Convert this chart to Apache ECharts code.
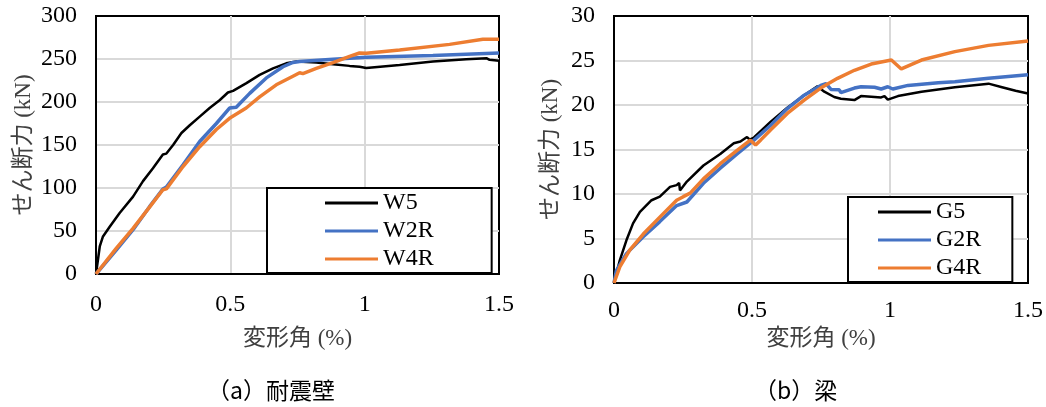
<!DOCTYPE html>
<html>
<head>
<meta charset="utf-8">
<script src="https://cdn.jsdelivr.net/npm/echarts@6/dist/echarts.min.js"></script>
<style>
html,body{margin:0;padding:0;background:#fff;}
#chart{width:1046px;height:407px;}
</style>
</head>
<body>
<div id="chart"></div>
<script>
// ---- data (drift angle %, shear force kN) ----
const W5 = [[0,0],[0.014,32],[0.026,43.7],[0.051,55],[0.088,71],[0.138,90],[0.175,108],[0.212,123],[0.249,139],[0.262,140],[0.287,150],[0.318,164],[0.349,173],[0.386,183],[0.423,193],[0.46,202],[0.491,211],[0.51,213],[0.56,222],[0.609,231.5],[0.659,239],[0.708,245],[0.746,247],[0.82,246],[0.882,244],[0.944,242],[0.981,241],[1.006,239.5],[1.13,243],[1.254,247],[1.378,249.7],[1.453,251],[1.465,249],[1.5,248]];
const W2R = [[0,0],[0.076,28],[0.138,51.5],[0.2,78.6],[0.249,98.7],[0.262,101],[0.324,127],[0.386,154],[0.448,175],[0.497,193],[0.522,194],[0.572,210],[0.634,228],[0.696,241],[0.733,246],[0.758,247],[0.882,249.7],[1.006,252],[1.254,254],[1.5,257]];
const W4R = [[0,0],[0.076,30],[0.138,53],[0.2,78],[0.249,98],[0.262,99],[0.324,125],[0.386,148],[0.448,168],[0.497,181],[0.559,193],[0.609,206],[0.671,220],[0.733,230],[0.758,234],[0.77,233],[0.82,239],[0.882,245.8],[0.944,253],[0.981,257],[1.006,256.6],[1.13,260.5],[1.316,267],[1.44,273],[1.5,273]];

const G5 = [[0,0],[0.021,2.55],[0.045,4.8],[0.069,6.7],[0.094,8],[0.136,9.3],[0.166,9.7],[0.203,10.8],[0.227,11],[0.236,11.25],[0.239,10.4],[0.264,11.4],[0.324,13.2],[0.385,14.5],[0.434,15.7],[0.458,15.9],[0.482,16.4],[0.492,16.1],[0.507,16.35],[0.567,18.1],[0.628,19.7],[0.689,21.1],[0.737,22.1],[0.762,21.5],[0.798,20.9],[0.822,20.7],[0.871,20.55],[0.895,21],[0.944,20.9],[0.968,20.85],[0.98,21],[0.992,20.6],[1.029,21],[1.114,21.5],[1.235,22],[1.357,22.4],[1.406,22],[1.455,21.6],[1.5,21.3]];
const G2R = [[0,0],[0.0085,1.4],[0.045,3.3],[0.106,5.2],[0.166,6.9],[0.227,8.7],[0.264,9.1],[0.324,11.2],[0.385,12.9],[0.446,14.5],[0.507,16.05],[0.567,17.7],[0.628,19.6],[0.689,21.1],[0.749,22.2],[0.768,22.4],[0.786,21.75],[0.816,21.7],[0.822,21.4],[0.871,21.9],[0.895,22.05],[0.944,22],[0.968,21.8],[0.992,22.05],[1.01,21.8],[1.065,22.2],[1.175,22.5],[1.235,22.6],[1.357,23],[1.5,23.4]];
const G4R = [[0,0],[0.021,1.8],[0.057,3.7],[0.106,5.5],[0.166,7.4],[0.227,9.3],[0.251,9.7],[0.276,10.1],[0.324,11.7],[0.385,13.4],[0.446,14.9],[0.494,16.05],[0.513,15.5],[0.531,16.05],[0.567,17.2],[0.628,19.05],[0.689,20.55],[0.749,21.9],[0.81,23],[0.871,23.9],[0.932,24.6],[1.005,25.05],[1.041,24.05],[1.114,25.05],[1.235,26],[1.357,26.7],[1.5,27.2]];

const wallNames = ['W5','W2R','W4R'];
const beamNames = ['G5','G2R','G4R'];
const xName = '変形角 (%)';
const yName = 'せん断力 (kN)';
const captions = ['（a）耐震壁','（b）梁'];

const BLACK = '#000000', BLUE = '#4472C4', ORANGE = '#ED7D31';
const SERIF = "'Liberation Serif','Times New Roman','Noto Sans CJK JP',serif";
const CJK = "'Noto Sans CJK JP',sans-serif";

function xAxisCfg(gi, gap, nameGap, lblMargin){
  return {
    type:'value', gridIndex:gi, min:0, max:1.5, interval:0.5,
    name:xName, nameLocation:'middle', nameGap:nameGap,
    nameTextStyle:{fontFamily:SERIF, fontSize:23, color:'#404040'},
    axisLine:{show:true, onZero:false, lineStyle:{color:'#000', width:2}},
    axisTick:{show:false},
    axisLabel:{margin:lblMargin, fontFamily:SERIF, fontSize:24, color:'#000'},
    splitLine:{show:true, showMinLine:false, showMaxLine:false, lineStyle:{color:'#d9d9d9', width:2}}
  };
}
function yAxisCfg(gi, max, interval, nameGap){
  return {
    type:'value', gridIndex:gi, min:0, max:max, interval:interval,
    name:yName, nameLocation:'middle', nameGap:nameGap,
    nameTextStyle:{fontFamily:SERIF, fontSize:23, color:'#404040'},
    axisLine:{show:true, onZero:false, lineStyle:{color:'#000', width:2}},
    axisTick:{show:false},
    axisLabel:{margin:19, fontFamily:SERIF, fontSize:24, color:'#000'},
    splitLine:{show:true, showMinLine:false, showMaxLine:false, lineStyle:{color:'#d9d9d9', width:2}}
  };
}
function lineSeries(name, data, color, width, idx){
  return {type:'line', name:name, data:data, xAxisIndex:idx, yAxisIndex:idx,
    showSymbol:false, symbol:'none', smooth:false, animation:false,
    lineStyle:{color:color, width:width}, itemStyle:{color:color}};
}
function legendCfg(names, left, top, padding){
  return {data:names, orient:'vertical', left:left, top:top, padding:padding,
    itemGap:4, itemWidth:53, itemHeight:3, icon:'rect',
    borderColor:'#000', borderWidth:2, backgroundColor:'#fff',
    textStyle:{fontFamily:SERIF, fontSize:24, color:'#000', padding:[0,0,0,0]}};
}

const chart = echarts.init(document.getElementById('chart'), null, {renderer:'canvas'});
chart.setOption({
  animation:false,
  backgroundColor:'#fff',
  grid:[
    {left:96, top:16, width:403, height:258, show:true, borderColor:'#000', borderWidth:2, containLabel:false},
    {left:614, top:16, width:414, height:267, show:true, borderColor:'#000', borderWidth:2, containLabel:false}
  ],
  xAxis:[xAxisCfg(0,0,53,19), xAxisCfg(1,0,44,16)],
  yAxis:[yAxisCfg(0,300,50,61), yAxisCfg(1,30,5,52)],
  legend:[
    legendCfg(wallNames, 267, 188, [3,58,2,58]),
    legendCfg(beamNames, 848, 197, [3,31,2,30])
  ],
  series:[
    lineSeries('W5', W5, BLACK, 2.5, 0),
    lineSeries('W2R', W2R, BLUE, 3.5, 0),
    lineSeries('W4R', W4R, ORANGE, 3.5, 0),
    lineSeries('G5', G5, BLACK, 2.5, 1),
    lineSeries('G2R', G2R, BLUE, 3.5, 1),
    lineSeries('G4R', G4R, ORANGE, 3.5, 1)
  ],
  graphic:[
    {type:'text', left:207, top:379, style:{text:captions[0], font:"23px "+CJK, fill:'#000'}},
    {type:'text', left:754, top:379, style:{text:captions[1], font:"23px "+CJK, fill:'#000'}}
  ]
});
</script>
</body>
</html>
